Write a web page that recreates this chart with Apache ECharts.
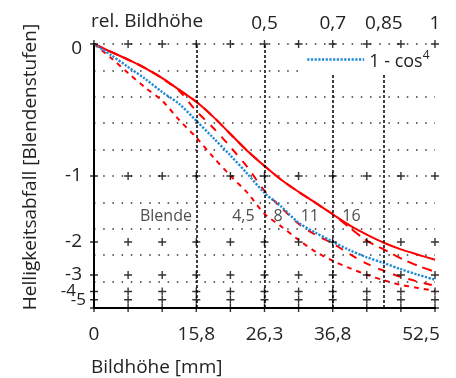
<!DOCTYPE html>
<html><head><meta charset="utf-8">
<script src="https://cdn.jsdelivr.net/npm/echarts@6/dist/echarts.min.js"></script>
<style>html,body{margin:0;padding:0;background:#fff}#c{width:456px;height:378px}</style>
</head><body><div id="c"></div>
<script>
// relative image height (x) and relative brightness (y, linear; labels are in stops)
const relHeight = [0,0.05,0.1,0.15,0.2,0.25,0.3,0.35,0.4,0.45,0.5,0.55,0.6,0.65,0.7,0.75,0.8,0.85,0.9,0.95,1];
const blende16 = [1.000,0.970,0.941,0.909,0.871,0.826,0.781,0.724,0.659,0.595,0.538,0.485,0.440,0.398,0.355,0.313,0.278,0.247,0.222,0.202,0.183];
const blende11 = [1.000,0.970,0.941,0.909,0.871,0.826,0.781,0.724,0.659,0.595,0.538,0.485,0.440,0.398,0.355,0.304,0.255,0.222,0.188,0.160,0.137];
const blende8  = [1.000,0.970,0.941,0.909,0.869,0.822,0.746,0.682,0.610,0.533,0.444,0.379,0.319,0.277,0.245,0.204,0.168,0.141,0.118,0.100,0.084];
const blende45 = [1.000,0.947,0.890,0.835,0.785,0.712,0.646,0.571,0.501,0.436,0.357,0.308,0.258,0.213,0.179,0.151,0.126,0.105,0.088,0.076,0.065];
const cos4     = [1.000,0.958,0.913,0.868,0.818,0.773,0.709,0.644,0.578,0.508,0.436,0.383,0.323,0.285,0.251,0.219,0.192,0.170,0.147,0.126,0.107];

const bottomTickPos = [0,0.3,0.5,0.7,1];
const bottomTickLabels = ['0','15,8','26,3','36,8','52,5'];
const topTickPos = [0.5,0.7,0.85,1];
const topTickLabels = ['0,5','0,7','0,85','1'];
const stopVals = [1,0.5,0.25,0.125,0.0625,0.03125];
const stopLabels = ['0','-1','-2','-3','-4','-5'];
const refLines = [0.3,0.5,0.7,0.85];
const crossX = [0,0.1,0.2,0.3,0.4,0.5,0.6,0.7,0.8,0.9,1];
const crossY = [1,0.5,0.25,0.125,0.0625,0.03125,0];
const blendeNames = ['Blende','4,5','8','11','16'];
const blendeX = [0.211,0.438,0.540,0.633,0.755];
const blendeV = [0.347,0.347,0.347,0.347,0.347];

const FONT = 'Open Sans';
const TXT = '#222';
const RED = '#ff0000';
const BLUE = '#1e8ad6';

function pick(v, pos, labels){
  for (let i=0;i<pos.length;i++) if (Math.abs(v-pos[i])<1e-6) return labels[i];
  return null;
}
const pairs = arr => relHeight.map((x,i)=>[x,arr[i]]);
const crosses = [];
crossX.forEach(x=>crossY.forEach(y=>crosses.push([x,y])));

const chart = echarts.init(document.getElementById('c'), null, {renderer:'canvas'});
chart.setOption({
  animation:false,
  backgroundColor:'#fff',
  textStyle:{fontFamily:FONT},
  title:[
    {text:'rel. Bildhöhe', left:91, top:12, padding:0, textStyle:{fontSize:19, fontWeight:'normal', color:TXT, fontFamily:FONT}},
    {text:'Bildhöhe [mm]', left:91, top:358, padding:0, textStyle:{fontSize:19, fontWeight:'normal', color:TXT, fontFamily:FONT}}
  ],
  graphic:[{
    type:'text', x:31, y:167, rotation:Math.PI/2,
    style:{text:'Helligkeitsabfall [Blendenstufen]', fontSize:19, fontFamily:FONT, fill:TXT,
      align:'center', verticalAlign:'middle', textAlign:'center', textVerticalAlign:'middle'}
  }],
  grid:{left:94, top:44, width:341, height:264, containLabel:false},
  legend:{
    data:['1 - cos4'], left:298, top:45, padding:[0,6,0,8], itemWidth:57, itemHeight:12,
    backgroundColor:'#fff', z:8, selectedMode:false,
    itemStyle:{opacity:0, color:'rgba(0,0,0,0)', borderWidth:0},
    lineStyle:{width:2.4, opacity:1},
    formatter: () => '1 - cos{s|4}',
    textStyle:{fontSize:18, color:TXT, fontFamily:FONT, lineHeight:24, padding:[5,0,0,0],
      rich:{s:{fontSize:12, fontFamily:FONT, color:TXT, padding:[0,0,12,0]}}}
  },
  xAxis:[
    {type:'value', position:'bottom', min:0, max:1, interval:0.1,
     axisLine:{lineStyle:{color:'#000', width:2}}, axisTick:{show:false}, splitLine:{show:false},
     axisLabel:{margin:17, fontSize:19, color:TXT, fontFamily:FONT,
       formatter: v => { const s = pick(v,bottomTickPos,bottomTickLabels); if(s===null) return ''; return v>0.99 ? '{r|'+s+'}' : s; },
       rich:{r:{fontSize:19, fontFamily:FONT, color:TXT, padding:[0,28,0,0]}}}},
    {type:'value', position:'top', min:0, max:1, interval:0.05,
     axisLine:{lineStyle:{color:'#000', width:2}}, axisTick:{show:false}, splitLine:{show:false},
     axisLabel:{margin:11, fontSize:19, color:TXT, fontFamily:FONT,
       formatter: v => pick(v,topTickPos,topTickLabels) || ''}}
  ],
  yAxis:[
    {type:'value', position:'left', min:0, max:1, interval:0.03125,
     axisLine:{lineStyle:{color:'#000', width:2}}, axisTick:{show:false}, splitLine:{show:false},
     axisLabel:{margin:8, fontSize:19, color:TXT, fontFamily:FONT,
       formatter: v => { const s = pick(v,stopVals,stopLabels); if(s===null) return '';
         if (s==='0') return '{z|'+s+'}'; if (s==='-4') return '{a|'+s+'}'; if (s==='-5') return '{b|'+s+'}'; return '{n|'+s+'}'; },
       rich:{
         n:{fontSize:19, fontFamily:FONT, color:TXT, padding:[0,4,0,0]},
         z:{fontSize:19, fontFamily:FONT, color:TXT, padding:[10,4,0,0]},
         a:{fontSize:17, fontFamily:FONT, color:TXT, padding:[0,10,0,0]},
         b:{fontSize:17, fontFamily:FONT, color:TXT, padding:[0,0,0,0]}
       }}},
    {type:'value', position:'right', min:0, max:1, interval:0.1,
     axisLine:{lineStyle:{color:'#000', width:2}}, axisTick:{show:false}, axisLabel:{show:false},
     splitLine:{show:true, lineStyle:{color:'#333', width:1.5, type:[1.5,7.7]}}}
  ],
  series:[
    {name:'Blende 16', type:'line', data:pairs(blende16), showSymbol:false, symbol:'none', smooth:0.3,
     lineStyle:{color:RED, width:2}, itemStyle:{color:RED}, z:3, silent:true},
    {name:'Blende 11', type:'line', data:pairs(blende11), showSymbol:false, symbol:'none', smooth:0.3,
     lineStyle:{color:RED, width:2, type:[10,6]}, itemStyle:{color:RED}, z:3, silent:true},
    {name:'Blende 8', type:'line', data:pairs(blende8), showSymbol:false, symbol:'none', smooth:0.3,
     lineStyle:{color:RED, width:2, type:[8,8]}, itemStyle:{color:RED}, z:3, silent:true},
    {name:'Blende 4,5', type:'line', data:pairs(blende45), showSymbol:false, symbol:'none', smooth:0.3,
     lineStyle:{color:RED, width:2, type:[5,5]}, itemStyle:{color:RED}, z:3, silent:true},
    {name:'1 - cos4', type:'line', data:pairs(cos4), showSymbol:false, symbol:'none', smooth:0.3,
     lineStyle:{color:BLUE, width:2.4, type:[2.2,1.5]}, itemStyle:{color:BLUE}, z:3, silent:true},
    {name:'crosses', type:'scatter', data:crosses, symbol:'path://M0,4L8,4M4,0L4,8', symbolSize:8, z:10, silent:true,
     itemStyle:{color:'rgba(0,0,0,0)', borderColor:'#000', borderWidth:1.4},
     markLine:{silent:true, symbol:['none','none'], label:{show:false}, animation:false,
       lineStyle:{color:'#000', width:1.5, type:[3,2]},
       data: refLines.map(x=>({xAxis:x}))}},
    {name:'labels', type:'scatter', data:blendeNames.map((n,i)=>[blendeX[i],blendeV[i],n]), symbolSize:0, silent:true, z:4,
     label:{show:true, position:'inside', formatter:p=>p.value[2], fontSize:16, fontFamily:FONT, color:TXT}}
  ]
});
</script></body></html>
